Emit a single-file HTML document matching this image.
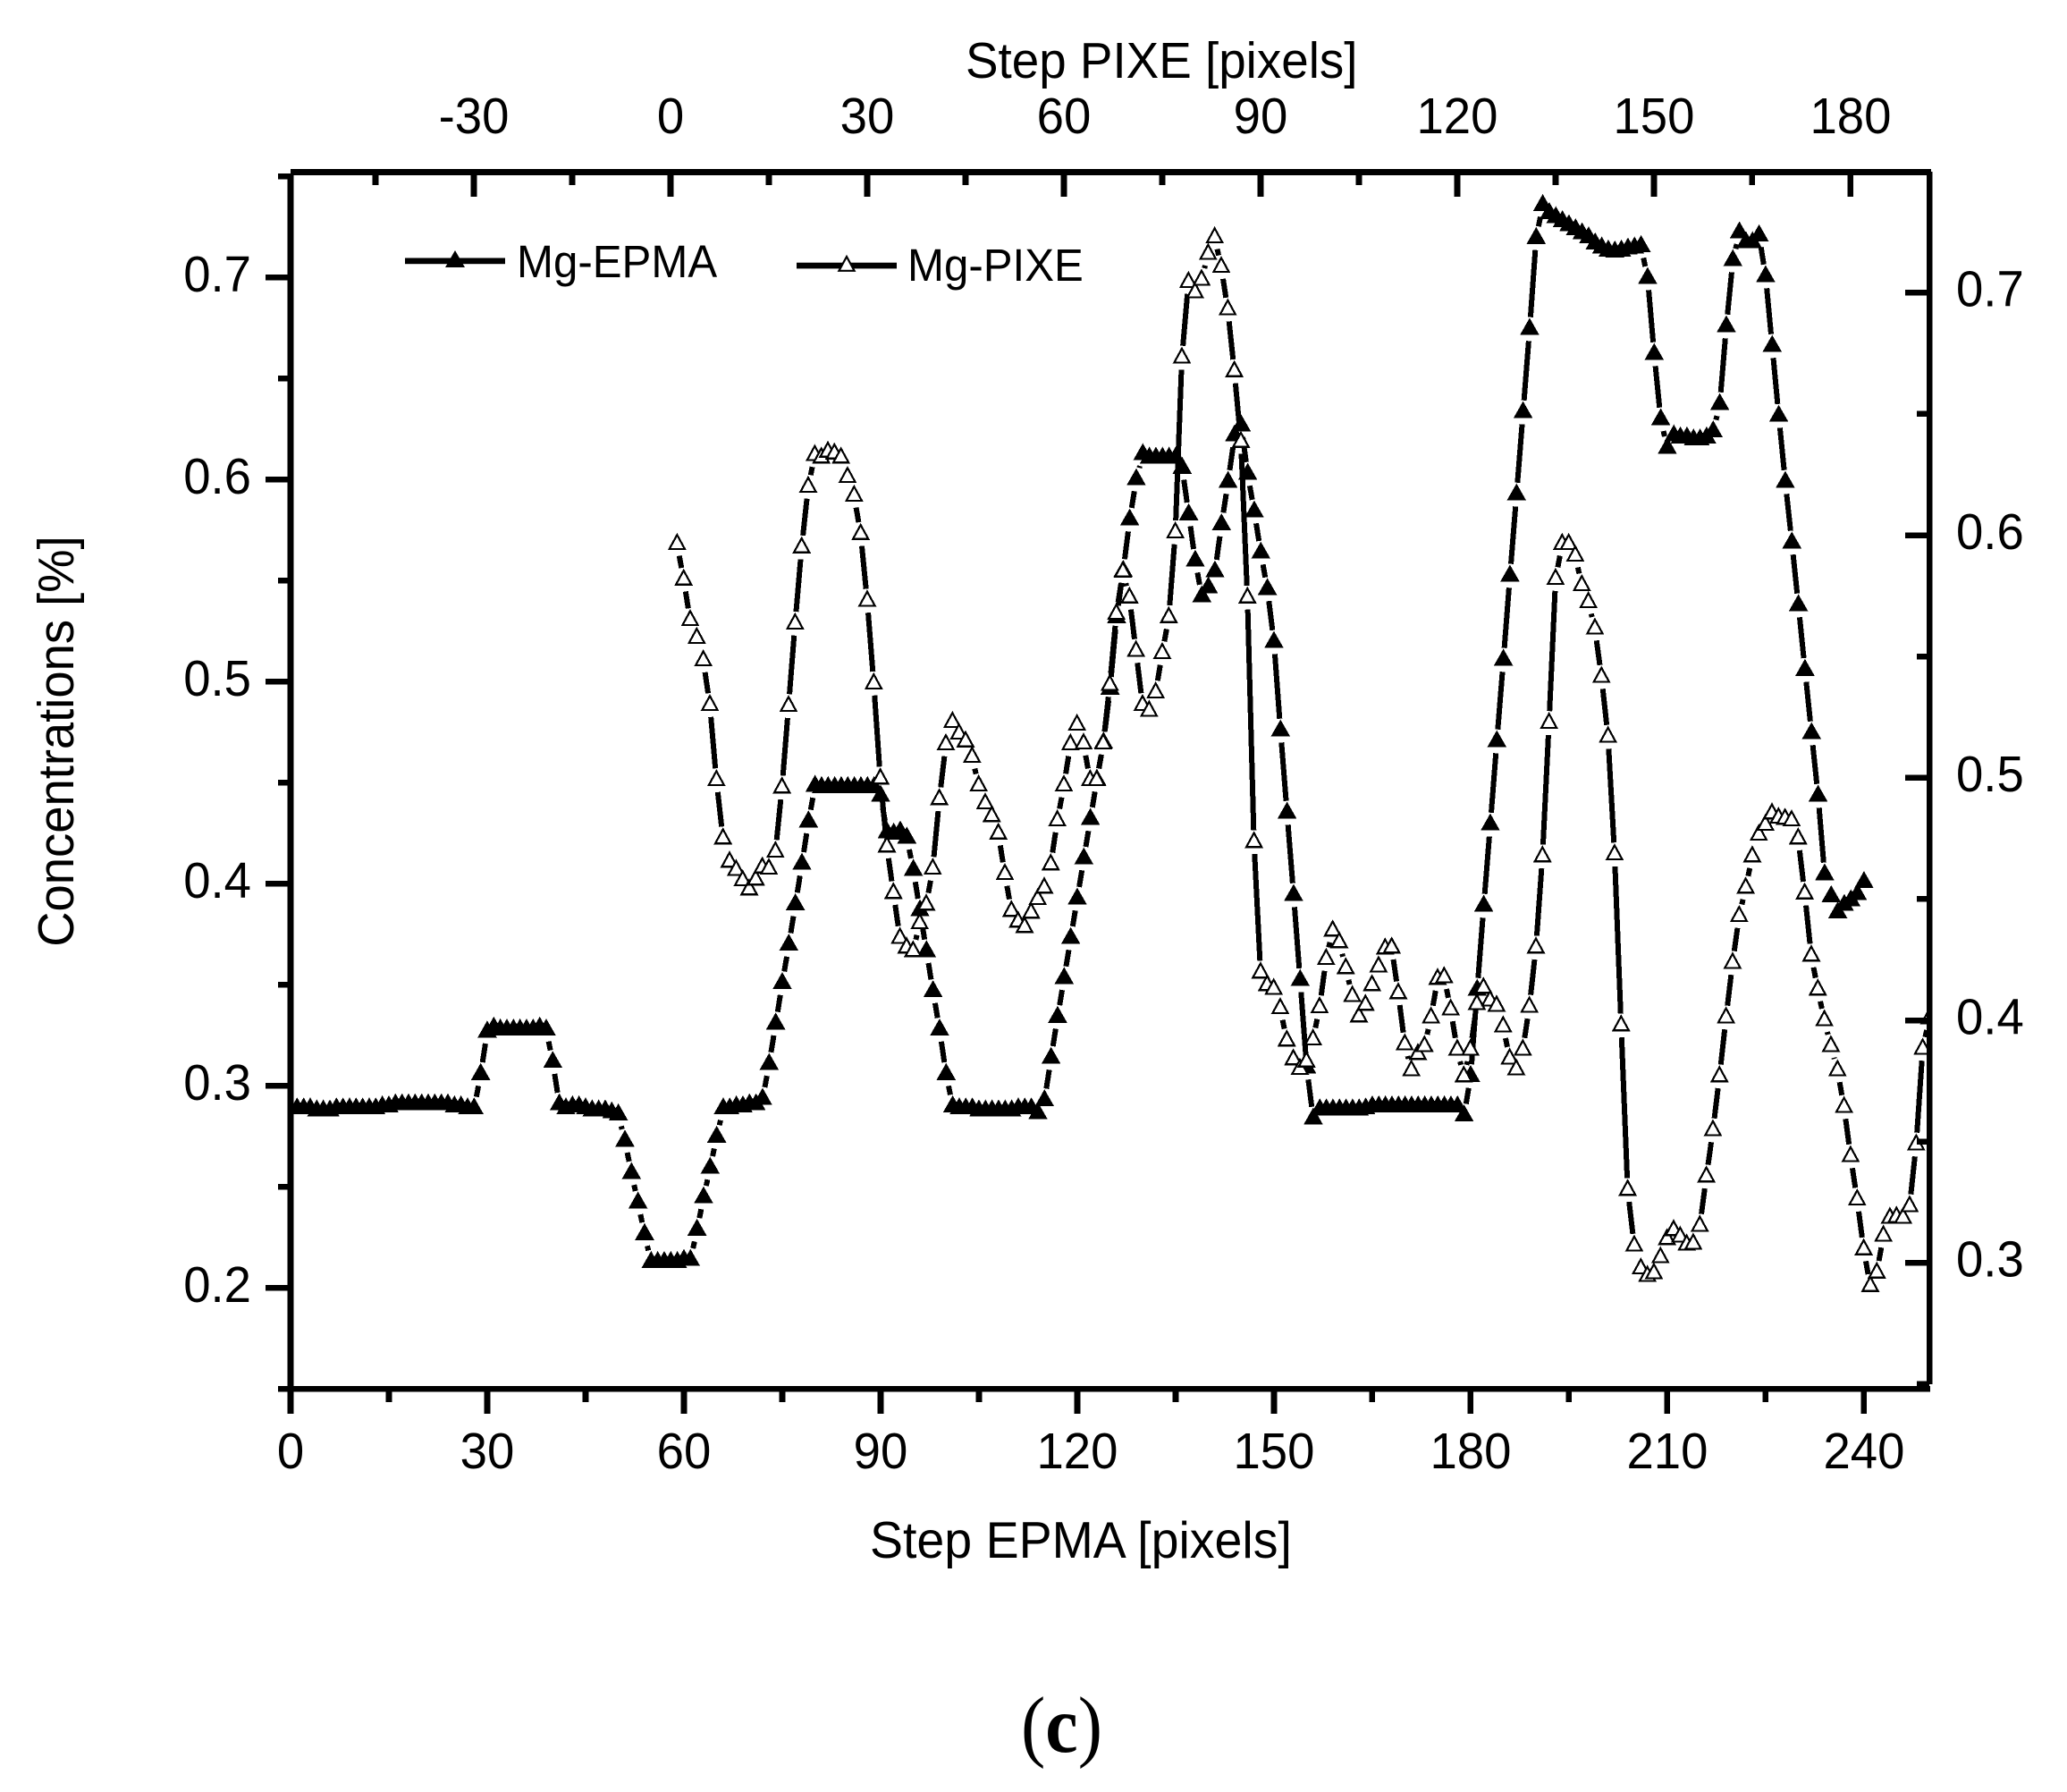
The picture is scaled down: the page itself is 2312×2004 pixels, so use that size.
<!DOCTYPE html>
<html lang="en">
<head>
<meta charset="utf-8">
<title>Mg concentration profiles: EPMA vs PIXE</title>
<style>
  html, body { margin: 0; padding: 0; background: #fff; }
  svg { display: block; }
  text { font-family: "Liberation Sans", Arial, sans-serif; fill: #000; }
</style>
</head>
<body>
<svg id="chart" xmlns="http://www.w3.org/2000/svg" width="2312" height="2004" viewBox="0 0 2312 2004">
  <rect x="0" y="0" width="2312" height="2004" fill="#fff"/>
  <defs>
    <clipPath id="plot-clip"><rect x="322" y="190" width="1833" height="1366"/></clipPath>
  </defs>
  <g id="series-layer" clip-path="url(#plot-clip)" shape-rendering="crispEdges"></g>
  <g id="axis-layer" shape-rendering="crispEdges"></g>
  <g id="label-layer"></g>

  <text font-size="54.8" transform="translate(1080 87) scale(1 1.04)">Step PIXE [pixels]</text>
  <text font-size="55.5" transform="translate(973 1742) scale(1 1.04)">Step EPMA [pixels]</text>
  <text font-size="54.4" text-anchor="middle" transform="translate(82 829) rotate(-90) scale(1 1.04)">Concentrations [%]</text>

  <g>
    <g>
      <rect x="453" y="288.5" width="112" height="6.7" fill="#000"/>
      <polygon points="509,280 520,299 498,299" fill="#000"/>
      <text font-size="49.2" transform="translate(578 310) scale(1 1.04)">Mg-EPMA</text>
    </g>
    <g>
      <rect x="891" y="293.7" width="112" height="6.7" fill="#000"/>
      <polygon points="947,287 955.6,302.8 938.4,302.8" fill="#fff" stroke="#000" stroke-width="2.2"/>
      <text font-size="49.2" transform="translate(1015 314) scale(1 1.04)">Mg-PIXE</text>
    </g>
  </g>

  <text font-size="82" text-anchor="middle" transform="translate(1187.5 1959) scale(1 1.08)" style="font-family:'Liberation Serif','Times New Roman',serif">(<tspan font-weight="bold">c</tspan>)</text>
</svg>

<script>
// Mg-EPMA concentrations [%], one value per EPMA step starting at step 0
const epmaValues = [
  .290,.290,.290,.290,.289,.289,.289,.290,.290,.290,
  .290,.290,.290,.290,.291,.291,.292,.292,.292,.292,
  .292,.292,.292,.292,.292,.291,.291,.290,.290,.307,
  .328,.330,.329,.329,.329,.329,.329,.329,.330,.329,
  .313,.292,.290,.291,.291,.290,.289,.289,.289,.288,
  .287,.274,.258,.2434,.2278,.214,.214,.214,.214,.214,
  .215,.215,.230,.246,.2606,.276,.290,.290,.291,.291,
  .292,.292,.2947,.312,.332,.352,.371,.391,.411,.432,
  .4496,.449,.449,.449,.449,.449,.449,.449,.449,.449,
  .4447,.4265,.426,.427,.424,.408,.388,.3678,.348,.329,
  .307,.291,.290,.290,.290,.289,.289,.289,.289,.289,
  .289,.290,.290,.290,.2876,.294,.315,.3353,.3545,.3743,
  .3938,.4137,.4332,.4526,.471,.4977,.533,.556,.5814,.6013,
  .6137,.612,.612,.612,.612,.612,.607,.584,.561,.5434,
  .5478,.5557,.579,.600,.623,.628,.604,.5854,.565,.547,
  .5208,.477,.4363,.3956,.3535,.3102,.285,.2895,.2895,.2895,
  .2895,.2895,.2895,.2895,.290,.291,.291,.291,.291,.291,
  .291,.291,.291,.291,.291,.291,.291,.291,.291,.2865,
  .306,.3487,.3903,.4305,.4717,.512,.5536,.5938,.6345,.6757,
  .7207,.737,.733,.731,.729,.727,.725,.723,.721,.718,
  .716,.7145,.714,.7145,.7155,.716,.7167,.7009,.6633,.631,
  .6168,.623,.622,.622,.621,.621,.622,.625,.6385,.677,
  .7097,.7235,.7186,.7186,.722,.7018,.6673,.6327,.600,.570,
  .539,.507,.4757,.4447,.4058,.395,.387,.3907,.393,.396,
  .402
];
// Mg-PIXE concentrations [%], one value per PIXE step starting at step 1
const pixeValues = [
  .5974,.5827,.566,.5587,.5494,.531,.5,.476,.4664,.463,
  .4587,.455,.459,.464,.4635,.4705,.497,.5306,.5646,.596,
  .621,.634,.633,.6354,.6347,.633,.625,.6173,.6015,.574,
  .5399,.5007,.4727,.4535,.435,.431,.4295,.441,.4487,.4635,
  .4922,.5148,.524,.5192,.516,.5096,.4978,.4904,.4852,.478,
  .4613,.4461,.4417,.4395,.4454,.451,.4557,.4653,.4834,.4978,
  .5148,.5229,.5151,.5,.5,.5151,.5393,.5686,.586,.5753,
  .5533,.531,.5286,.5362,.5524,.5672,.6022,.6742,.7054,.7011,
  .7063,.717,.7238,.7116,.6941,.6686,.6395,.5753,.4745,.4207,
  .4155,.414,.406,.3927,.3849,.381,.384,.3931,.4064,.4263,
  .438,.4332,.4225,.411,.4026,.4074,.4155,.4232,.4306,.431,
  .4122,.3911,.3804,.3871,.3904,.4022,.4181,.4188,.4055,.3889,
  .3779,.3889,.4077,.4144,.4092,.407,.3985,.3852,.3808,.3889,
  .4066,.431,.4686,.5236,.583,.5974,.5974,.5926,.5804,.5734,
  .5625,.5426,.5179,.4694,.3989,.3311,.3081,.2987,.2956,.2967,
  .3033,.3108,.3145,.3118,.3085,.3089,.3163,.3366,.3557,.3779,
  .4022,.4247,.444,.4557,.4686,.4775,.4816,.4863,.4845,.4841,
  .4834,.476,.4533,.4277,.4137,.401,.3904,.3804,.3653,.345,
  .3271,.3066,.2915,.297,.3122,.3196,.32,.3196,.3244,.3498,
  .3893,.4018
];
const epmaFirstStep = 0;
const pixeFirstStep = 1;

const bottomMajorTicks = [0,30,60,90,120,150,180,210,240];
const bottomMinorTicks = [15,45,75,105,135,165,195,225];
const topMajorTicks = [-30,0,30,60,90,120,150,180];
const topMinorTicks = [-45,-15,15,45,75,105,135,165];
const leftMajorTicks = [0.2,0.3,0.4,0.5,0.6,0.7];
const leftMinorTicks = [0.15,0.25,0.35,0.45,0.55,0.65,0.75];
const rightMajorTicks = [0.3,0.4,0.5,0.6,0.7];
const rightMinorTicks = [0.25,0.35,0.45,0.55,0.65];

// Axis functions
const xBottom = function (step) { return 325 + 7.333 * step; };
const xTop = function (step) { return 750 + 7.333 * step; };
const yLeft = function (v) { return 1553.3 - (v - 0.15) * 2260; };
const yRight = function (v) { return 327.3 - (v - 0.7) * 2712.5; };

const NS = 'http://www.w3.org/2000/svg';
const seriesLayer = document.getElementById('series-layer');
const axisLayer = document.getElementById('axis-layer');
const labelLayer = document.getElementById('label-layer');

function makeLine(parent, x1, y1, x2, y2, width) {
  const el = document.createElementNS(NS, 'line');
  el.setAttribute('x1', x1);
  el.setAttribute('y1', y1);
  el.setAttribute('x2', x2);
  el.setAttribute('y2', y2);
  el.setAttribute('stroke', '#000');
  el.setAttribute('stroke-width', width);
  parent.appendChild(el);
  return el;
}

function makeLabel(x, y, str, anchor) {
  const el = document.createElementNS(NS, 'text');
  el.setAttribute('transform', 'translate(' + x + ' ' + y + ') scale(1 1.03)');
  el.setAttribute('font-size', '54.5');
  el.setAttribute('text-anchor', anchor);
  el.textContent = str;
  labelLayer.appendChild(el);
  return el;
}

// Line segments stop short of each symbol, as in the original plot
const GAP = 13.35;
const LINE_DROP = 2.8;
function drawSegments(points, name) {
  for (let i = 0; i < points.length - 1; i++) {
    const a = points[i], b = points[i + 1];
    const dx = b[0] - a[0], dy = b[1] - a[1];
    const len = Math.hypot(dx, dy);
    if (len <= 2 * GAP + 0.5) continue;
    const ux = dx / len, uy = dy / len;
    const seg = makeLine(seriesLayer,
      a[0] + ux * GAP, a[1] + LINE_DROP + uy * GAP,
      b[0] - ux * GAP, b[1] + LINE_DROP - uy * GAP, 6);
    
    
  }
}

function drawMarker(x, y, filled, name) {
  const el = document.createElementNS(NS, 'polygon');
  if (filled) {
    el.setAttribute('points', x + ',' + (y - 9.7) + ' ' + (x + 10.8) + ',' + (y + 9.3) + ' ' + (x - 10.8) + ',' + (y + 9.3));
    el.setAttribute('fill', '#000');
  } else {
    el.setAttribute('points', x + ',' + (y - 7.5) + ' ' + (x + 8.6) + ',' + (y + 8.3) + ' ' + (x - 8.6) + ',' + (y + 8.3));
    el.setAttribute('fill', '#fff');
    el.setAttribute('stroke', '#000');
    el.setAttribute('stroke-width', '2.2');
  }
  
  
  seriesLayer.appendChild(el);
}

// Series
const epmaPoints = epmaValues.map(function (v, i) { return [xBottom(epmaFirstStep + i), yLeft(v)]; });
const pixePoints = pixeValues.map(function (v, i) { return [xTop(pixeFirstStep + i), yRight(v)]; });
drawSegments(epmaPoints, 'mg-epma');
epmaPoints.forEach(function (p) { drawMarker(p[0], p[1], true, 'mg-epma'); });
drawSegments(pixePoints, 'mg-pixe');
pixePoints.forEach(function (p) { drawMarker(p[0], p[1], false, 'mg-pixe'); });

// Axis lines
const W = 6.6;
const spineBottom = makeLine(axisLayer, 311, 1553.3, 2159, 1553.3, W);


const spineTop = makeLine(axisLayer, 325, 192.5, 2160, 192.5, W);


const spineLeft = makeLine(axisLayer, 325, 194, 325, 1581, W);


const spineRight = makeLine(axisLayer, 2158.3, 192, 2158.3, 1548, W);



// Ticks and labels
bottomMajorTicks.forEach(function (t) {
  const tick = makeLine(axisLayer, xBottom(t), 1553, xBottom(t), 1581, W);
  
  
  const label = makeLabel(xBottom(t), 1642, String(t), 'middle');
  
  
});
bottomMinorTicks.forEach(function (t) {
  const tick = makeLine(axisLayer, xBottom(t), 1553, xBottom(t), 1568, W);
  
  
});
topMajorTicks.forEach(function (t) {
  const tick = makeLine(axisLayer, xTop(t), 192, xTop(t), 220, W);
  
  
  const label = makeLabel(xTop(t), 149, String(t), 'middle');
  
  
});
topMinorTicks.forEach(function (t) {
  const tick = makeLine(axisLayer, xTop(t), 192, xTop(t), 207, W);
  
  
});
leftMajorTicks.forEach(function (t) {
  const tick = makeLine(axisLayer, 297, yLeft(t), 325, yLeft(t), W);
  
  
  const label = makeLabel(281, yLeft(t) + 15.5, t.toFixed(1), 'end');
  
  
});
leftMinorTicks.forEach(function (t) {
  const tick = makeLine(axisLayer, 311, yLeft(t), 325, yLeft(t), W);
  
  
});
rightMajorTicks.forEach(function (t) {
  const tick = makeLine(axisLayer, 2131, yRight(t), 2158, yRight(t), W);
  
  
  const label = makeLabel(2188, yRight(t) + 15.4, t.toFixed(1), 'start');
  
  
});
rightMinorTicks.forEach(function (t) {
  const tick = makeLine(axisLayer, 2144, yRight(t), 2158, yRight(t), W);
  
  
});
</script>
</body>
</html>
